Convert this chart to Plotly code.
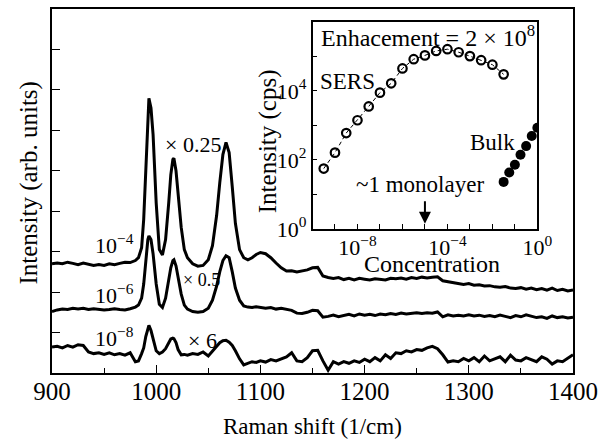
import plotly.graph_objects as go

FONT = "Liberation Serif, Times New Roman, serif"

# ---------------- main spectra data ----------------
RAMAN_SHIFT = (list(range(900, 985, 5)) +
               [983, 986, 988, 990, 992, 993, 995, 997, 1000, 1003, 1006, 1009, 1012, 1014,
                1016, 1017, 1019, 1021, 1024, 1027, 1030, 1035, 1040, 1045, 1050, 1054, 1058,
                1061, 1064, 1067, 1070, 1073, 1076, 1080, 1084, 1088] +
               [1092, 1096, 1100] +
               list(range(1105, 1401, 5)))

SPEC_1E4 = ([2.70, 2.72, 2.70, 2.74, 2.71, 2.68, 2.72, 2.69, 2.66, 2.68, 2.66, 2.70, 2.68, 2.71, 2.74, 2.73, 2.78] +
            [2.85, 3.10, 3.80, 5.00, 6.50, 6.79, 6.55, 5.90, 4.20, 3.05, 2.92, 3.30, 4.20, 4.90,
             5.28, 5.31, 5.00, 4.40, 3.60, 3.05, 2.85, 2.70, 2.64, 2.66, 2.80, 3.15, 3.90,
             4.70, 5.40, 5.70, 5.45, 4.60, 3.70, 3.05, 2.85, 2.80] +
            [2.85, 2.93, 2.98] +
            [2.95, 2.85, 2.72, 2.60, 2.52, 2.53, 2.50, 2.53, 2.55, 2.60, 2.61, 2.40, 2.36, 2.34, 2.36,
             2.31, 2.34, 2.30, 2.34, 2.32, 2.30, 2.33, 2.32, 2.30, 2.34, 2.33, 2.35, 2.32, 2.36, 2.34,
             2.37, 2.35, 2.37, 2.38, 2.28, 2.26, 2.24, 2.22, 2.19, 2.21, 2.17, 2.18, 2.15, 2.16, 2.13,
             2.12, 2.14, 2.10, 2.09, 2.11, 2.07, 2.10, 2.06, 2.09, 2.05, 2.10, 2.04, 2.07, 2.03, 2.05])

SPEC_1E6 = ([1.52, 1.56, 1.58, 1.57, 1.60, 1.58, 1.60, 1.57, 1.59, 1.58, 1.56, 1.57, 1.59, 1.57, 1.56, 1.59, 1.63] +
            [1.68, 1.85, 2.20, 2.80, 3.30, 3.39, 3.30, 2.95, 2.20, 1.70, 1.62, 1.85, 2.30, 2.60,
             2.78, 2.80, 2.65, 2.35, 1.95, 1.68, 1.58, 1.52, 1.50, 1.52, 1.60, 1.80, 2.15,
             2.50, 2.78, 2.90, 2.85, 2.50, 2.10, 1.80, 1.66, 1.63] +
            [1.62, 1.64, 1.62] +
            [1.60, 1.62, 1.58, 1.60, 1.57, 1.55, 1.48, 1.47, 1.50, 1.55, 1.54, 1.38, 1.40, 1.43, 1.39,
             1.42, 1.45, 1.41, 1.46, 1.43, 1.45, 1.42, 1.46, 1.44, 1.47, 1.45, 1.48, 1.46, 1.47, 1.49,
             1.47, 1.49, 1.48, 1.51, 1.39, 1.44, 1.41, 1.43, 1.41, 1.44, 1.41, 1.43, 1.40, 1.42, 1.39,
             1.43, 1.40, 1.37, 1.42, 1.39, 1.44, 1.40, 1.37, 1.39, 1.35, 1.41, 1.37, 1.39, 1.36, 1.38])

SPEC_1E8 = ([0.64, 0.66, 0.62, 0.68, 0.64, 0.70, 0.68, 0.52, 0.48, 0.50, 0.46, 0.50, 0.45, 0.48, 0.44, 0.50, 0.28] +
            [0.30, 0.48, 0.62, 0.90, 1.12, 1.18, 1.05, 0.85, 0.55, 0.48, 0.52, 0.60, 0.75, 0.84,
             0.86, 0.85, 0.75, 0.58, 0.45, 0.46, 0.44, 0.48, 0.46, 0.52, 0.42, 0.55, 0.68,
             0.75, 0.80, 0.81, 0.76, 0.68, 0.55, 0.35, 0.20, 0.24] +
            [0.28, 0.26, 0.30] +
            [0.27, 0.33, 0.30, 0.36, 0.40, 0.50, 0.30, 0.28, 0.38, 0.55, 0.56, 0.30, 0.07, 0.28, 0.22,
             0.28, 0.24, 0.30, 0.26, 0.34, 0.28, 0.38, 0.30, 0.45, 0.36, 0.50, 0.48, 0.55, 0.52, 0.58,
             0.56, 0.62, 0.66, 0.60, 0.45, 0.27, 0.30, 0.28, 0.36, 0.30, 0.38, 0.28, 0.42, 0.30, 0.35,
             0.40, 0.28, 0.44, 0.32, 0.30, 0.38, 0.33, 0.28, 0.40, 0.34, 0.22, 0.30, 0.28, 0.36, 0.45])

MAIN_X_TICKS = [900, 1000, 1100, 1200, 1300, 1400]
MAIN_X_MINOR = [950, 1050, 1150, 1250, 1350]
MAIN_Y_TICKS = [1, 2, 3, 4, 5, 6, 7, 8]

# ---------------- inset data ----------------
SERS_CONC = [10**-9.5, 1e-9, 10**-8.5, 1e-8, 10**-7.5, 1e-7, 10**-6.5, 1e-6, 10**-5.5,
             1e-5, 10**-4.5, 1e-4, 10**-3.5, 1e-3, 10**-2.5, 1e-2, 10**-1.5]
SERS_INT = [56, 162, 600, 1410, 3550, 8900, 16600, 44700, 83000,
            107000, 144000, 162000, 132000, 102000, 77600, 57500, 30200]

BULK_CONC = [10**-1.5, 10**-1.25, 0.1, 10**-0.75, 10**-0.5, 10**-0.25, 1.0]
BULK_INT = [23, 43, 72, 141, 251, 490, 850]

INSET_X_EXP = [-10, -9, -8, -7, -6, -5, -4, -3, -2, -1, 0]
INSET_X_TEXT = ["", "", "10<sup>−8</sup>", "", "", "", "10<sup>−4</sup>", "", "", "", "10<sup>0</sup>"]
INSET_Y_EXP = [0, 1, 2, 3, 4, 5, 6]
INSET_Y_TEXT = ["10<sup>0</sup>", "", "10<sup>2</sup>", "", "10<sup>4</sup>", "", ""]

fig = go.Figure()
for spec in (SPEC_1E4, SPEC_1E6, SPEC_1E8):
    fig.add_trace(go.Scatter(x=RAMAN_SHIFT, y=spec, mode="lines",
                             line=dict(color="black", width=3),
                             xaxis="x", yaxis="y", showlegend=False, hoverinfo="skip"))

fig.add_trace(go.Scatter(x=SERS_CONC, y=SERS_INT, mode="lines+markers",
                         line=dict(color="black", width=1, dash="4px,3px"),
                         marker=dict(symbol="circle-open", size=8.5, color="black",
                                     line=dict(width=2.2, color="black")),
                         xaxis="x2", yaxis="y2", showlegend=False))
fig.add_trace(go.Scatter(x=BULK_CONC, y=BULK_INT, mode="markers",
                         marker=dict(symbol="circle", size=10, color="black"),
                         xaxis="x2", yaxis="y2", showlegend=False))

axis_common = dict(showline=True, mirror=True, linecolor="black", linewidth=1.5,
                   ticks="inside", tickcolor="black", tickwidth=1.2,
                   showgrid=False, zeroline=False)

fig.update_layout(
    width=605, height=439,
    margin=dict(l=52, r=27, t=7, b=66),
    paper_bgcolor="white", plot_bgcolor="white",
    font=dict(family=FONT, size=23, color="black"),
    xaxis=dict(range=[900, 1400], domain=[0, 1], tickvals=MAIN_X_TICKS, ticklen=8,
               minor=dict(tickvals=MAIN_X_MINOR, ticks="inside", ticklen=5, tickcolor="black",
                          tickwidth=1.2),
               tickfont=dict(size=25), ticklabelstandoff=-5, **axis_common),
    yaxis=dict(range=[0, 9], domain=[0, 1], tickvals=MAIN_Y_TICKS, ticklen=8,
               showticklabels=False, **axis_common),
    xaxis2=dict(type="log", range=[-10, 0], domain=[0.5, 0.9316], anchor="y2",
                tickvals=[10**e for e in INSET_X_EXP], ticktext=INSET_X_TEXT, ticklen=5,
                tickfont=dict(size=22), ticklabelstandoff=-2, **axis_common),
    yaxis2=dict(type="log", range=[0, 6], domain=[0.396, 0.9645], anchor="x2",
                tickvals=[10**e for e in INSET_Y_EXP], ticktext=INSET_Y_TEXT, ticklen=5,
                tickfont=dict(size=22), **axis_common),
)

ann = []
# axis titles
ann.append(dict(text="Raman shift (1/cm)", xref="paper", yref="paper", x=0.5, y=-0.147,
                showarrow=False, font=dict(size=23), xanchor="center", yanchor="middle"))
ann.append(dict(text="Intensity (arb. units)", xref="paper", yref="paper", x=-0.045, y=0.522,
                textangle=-90, showarrow=False, font=dict(size=25), xanchor="center", yanchor="middle"))
ann.append(dict(text="Concentration", xref="paper", yref="paper", x=(436 - 52) / 526,
                y=(373 - 263) / 366, showarrow=False, font=dict(size=24),
                xanchor="center", yanchor="middle"))
ann.append(dict(text="Intensity (cps)", xref="paper", yref="paper", x=(270 - 52) / 526,
                y=(373 - 140) / 366, textangle=-90, showarrow=False, font=dict(size=25),
                xanchor="center", yanchor="middle"))
# main labels
ann.append(dict(text="× 0.25", x=1007, y=5.66, xref="x", yref="y", showarrow=False,
                xanchor="left", yanchor="middle", font=dict(size=22)))
ann.append(dict(text="× 0.5", x=1024, y=2.31, xref="x", yref="y", showarrow=False,
                xanchor="left", yanchor="middle", font=dict(size=18)))
ann.append(dict(text="× 6", x=1029, y=0.81, xref="x", yref="y", showarrow=False,
                xanchor="left", yanchor="middle", font=dict(size=22)))
for lab, yy in (("10<sup>−4</sup>", 3.2), ("10<sup>−6</sup>", 1.95), ("10<sup>−8</sup>", 0.9)):
    ann.append(dict(text=lab, x=939, y=yy, xref="x", yref="y", showarrow=False,
                    xanchor="left", yanchor="middle", font=dict(size=22)))
# inset labels
ann.append(dict(text="Enhacement = 2 × 10<sup>8</sup>", x=-4.85, y=5.6, xref="x2", yref="y2",
                showarrow=False, xanchor="center", yanchor="middle", font=dict(size=24)))
ann.append(dict(text="SERS", x=-8.44, y=4.26, xref="x2", yref="y2",
                showarrow=False, xanchor="center", yanchor="middle", font=dict(size=23)))
ann.append(dict(text="Bulk", x=-2.0, y=2.5, xref="x2", yref="y2",
                showarrow=False, xanchor="center", yanchor="middle", font=dict(size=23)))
ann.append(dict(text="~1 monolayer", x=-5.24, y=1.28, xref="x2", yref="y2",
                showarrow=False, xanchor="center", yanchor="middle", font=dict(size=23)))
ann.append(dict(text="", x=-5, y=0.15, xref="x2", yref="y2", showarrow=True,
                ax=0, ay=-24, arrowhead=2, arrowsize=1.2, arrowwidth=2, arrowcolor="black"))
fig.update_layout(annotations=ann)

fig.write_html("out.html")
